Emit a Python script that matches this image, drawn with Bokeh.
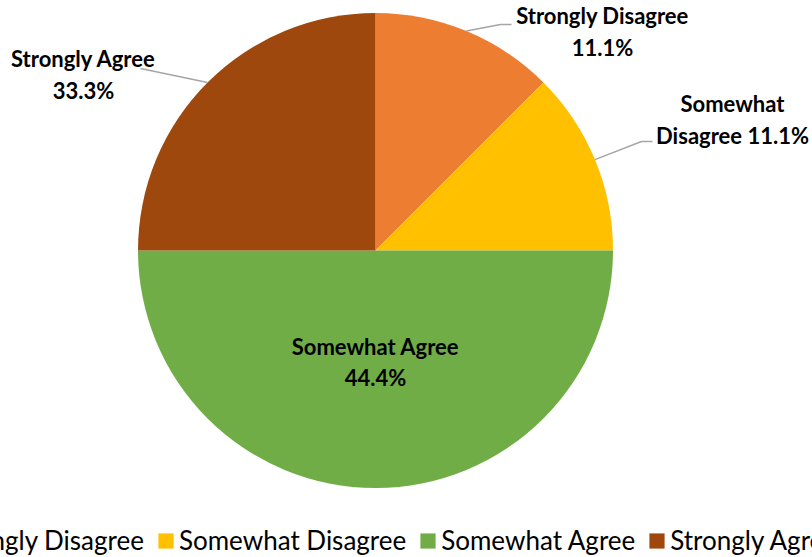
import math
from bokeh.plotting import figure
from bokeh.models import Range1d, ColumnDataSource, Legend, LegendItem
from bokeh.core.properties import value
from bokeh.embed import file_html
from bokeh.resources import INLINE

# ---- data ----
categories = ["Strongly Disagree", "Somewhat Disagree", "Somewhat Agree", "Strongly Agree"]
counts = [1, 1, 4, 2]  # slice sizes as drawn
pct_labels = ["11.1%", "11.1%", "44.4%", "33.3%"]  # labels as printed
colors = ["#ED7D31", "#FFC000", "#70AD47", "#9E480E"]
label_texts = ["Strongly Disagree\n11.1%", "Somewhat\nDisagree 11.1%",
               "Somewhat Agree\n44.4%", "Strongly Agree\n33.3%"]

W, H = 812, 557
CX, CY = 375, H - 250
R = 237.5

p = figure(width=W, height=H, x_range=Range1d(0, W), y_range=Range1d(0, H),
           output_backend="svg", toolbar_location=None, min_border=0)
p.axis.visible = False
p.grid.visible = False
p.outline_line_color = None
p.background_fill_color = "white"

total = sum(counts)
starts, ends, mids = [], [], []
cum = 0
for c in counts:
    a0 = math.pi / 2 - cum / total * 2 * math.pi
    cum += c
    a1 = math.pi / 2 - cum / total * 2 * math.pi
    starts.append(a0)
    ends.append(a1)
    mids.append((a0 + a1) / 2)

renderers = []
for i in range(len(categories)):
    r = p.wedge(x=CX, y=CY, radius=R, start_angle=starts[i], end_angle=ends[i],
                direction="clock", fill_color=colors[i], line_color=None)
    renderers.append(r)

# leader lines (outside labels)
kinks = {0: [(500, 24), (511, 24)], 1: [(641, 141), (652, 141)], 3: [(140, 68)]}
for i, pts in kinks.items():
    sx = CX + R * math.cos(mids[i])
    sy = CY + R * math.sin(mids[i])
    xs = [sx] + [q[0] for q in pts]
    ys = [sy] + [H - q[1] for q in pts]
    p.line(xs, ys, line_color="#A6A6A6", line_width=1.5)

# data labels
label_pos = [(602, 31), (732, 119), None, (83, 74)]
lx, ly = [], []
for i in range(len(categories)):
    if label_pos[i] is None:
        lx.append(CX + 0.47 * R * math.cos(mids[i]))
        ly.append(CY + 0.47 * R * math.sin(mids[i]))
    else:
        lx.append(label_pos[i][0])
        ly.append(H - label_pos[i][1])
src = ColumnDataSource(dict(x=lx, y=ly, t=label_texts))
p.text(x="x", y="y", text="t", source=src, text_align="center", text_baseline="middle",
       text_font=value("Lato"), text_font_style="bold", text_font_size="22px",
       text_color="black", text_line_height=1.15)

legend = Legend(items=[LegendItem(label=categories[i], renderers=[renderers[i]]) for i in range(4)],
                orientation="horizontal", location=(-79, 1),
                label_text_font="Lato", label_text_font_size="26px", label_text_color="black",
                glyph_width=19, glyph_height=19, label_standoff=4, spacing=12,
                padding=0, margin=0, border_line_color=None, background_fill_alpha=0)
p.add_layout(legend, "center")

open("out.html", "w").write(file_html(p, INLINE))
